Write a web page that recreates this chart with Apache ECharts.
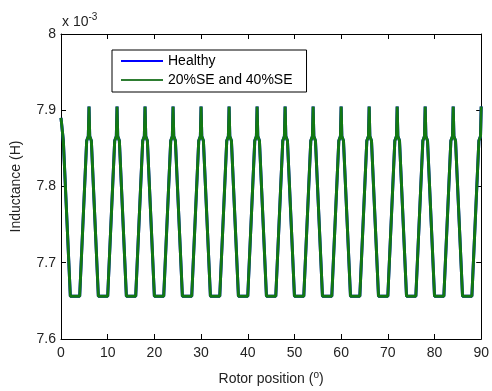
<!DOCTYPE html>
<html>
<head>
<meta charset="utf-8">
<script src="https://cdn.jsdelivr.net/npm/echarts@6/dist/echarts.min.js"></script>
<style>
html,body{margin:0;padding:0;background:#fff;}
#chart{width:492px;height:391px;}
</style>
</head>
<body>
<div id="chart"></div>
<script>
// Rotor position (degrees)
var rotorPos = [0,0.5,2.0,
  4.0,5.5,5.85,6,6.15,6.5,8.0,
  10.0,11.5,11.85,12,12.15,12.5,14.0,
  16.0,17.5,17.85,18,18.15,18.5,20.0,
  22.0,23.5,23.85,24,24.15,24.5,26.0,
  28.0,29.5,29.85,30,30.15,30.5,32.0,
  34.0,35.5,35.85,36,36.15,36.5,38.0,
  40.0,41.5,41.85,42,42.15,42.5,44.0,
  46.0,47.5,47.85,48,48.15,48.5,50.0,
  52.0,53.5,53.85,54,54.15,54.5,56.0,
  58.0,59.5,59.85,60,60.15,60.5,62.0,
  64.0,65.5,65.85,66,66.15,66.5,68.0,
  70.0,71.5,71.85,72,72.15,72.5,74.0,
  76.0,77.5,77.85,78,78.15,78.5,80.0,
  82.0,83.5,83.85,84,84.15,84.5,86.0,
  88.0,89.5,89.85,90];
// Inductance (x 10^-3 H)
var healthy = [7.890,7.860,7.656,
  7.656,7.860,7.866,7.905,7.866,7.860,7.656,
  7.656,7.860,7.866,7.905,7.866,7.860,7.656,
  7.656,7.860,7.866,7.905,7.866,7.860,7.656,
  7.656,7.860,7.866,7.905,7.866,7.860,7.656,
  7.656,7.860,7.866,7.905,7.866,7.860,7.656,
  7.656,7.860,7.866,7.905,7.866,7.860,7.656,
  7.656,7.860,7.866,7.905,7.866,7.860,7.656,
  7.656,7.860,7.866,7.905,7.866,7.860,7.656,
  7.656,7.860,7.866,7.905,7.866,7.860,7.656,
  7.656,7.860,7.866,7.905,7.866,7.860,7.656,
  7.656,7.860,7.866,7.905,7.866,7.860,7.656,
  7.656,7.860,7.866,7.905,7.866,7.860,7.656,
  7.656,7.860,7.866,7.905,7.866,7.860,7.656,
  7.656,7.860,7.866,7.905,7.866,7.860,7.656,
  7.656,7.860,7.866,7.905];
var faulty = [7.890,7.860,7.656,
  7.656,7.860,7.866,7.905,7.866,7.860,7.656,
  7.656,7.860,7.866,7.905,7.866,7.860,7.656,
  7.656,7.860,7.866,7.905,7.866,7.860,7.656,
  7.656,7.860,7.866,7.905,7.866,7.860,7.656,
  7.656,7.860,7.866,7.905,7.866,7.860,7.656,
  7.656,7.860,7.866,7.905,7.866,7.860,7.656,
  7.656,7.860,7.866,7.905,7.866,7.860,7.656,
  7.656,7.860,7.866,7.905,7.866,7.860,7.656,
  7.656,7.860,7.866,7.905,7.866,7.860,7.656,
  7.656,7.860,7.866,7.905,7.866,7.860,7.656,
  7.656,7.860,7.866,7.905,7.866,7.860,7.656,
  7.656,7.860,7.866,7.905,7.866,7.860,7.656,
  7.656,7.860,7.866,7.905,7.866,7.860,7.656,
  7.656,7.860,7.866,7.905,7.866,7.860,7.656,
  7.656,7.860,7.866,7.905];
var seriesNames = ['Healthy', '20%SE and 40%SE'];
var xTicks = [0,10,20,30,40,50,60,70,80,90];
var yTicks = [7.6,7.7,7.8,7.9,8];

function pairs(xs, ys){ return xs.map(function(x,i){ return [x, ys[i]]; }); }

var font = 'Liberation Sans, Arial, Helvetica, sans-serif';
var chart = echarts.init(document.getElementById('chart'), null, {renderer:'canvas'});
var axisCommon = {
  axisLine:{show:true, onZero:false, lineStyle:{color:'#000', width:1}},
  axisTick:{show:true, inside:true, length:5, lineStyle:{color:'#000'}},
  splitLine:{show:false}
};
chart.setOption({
  animation:false,
  backgroundColor:'#fff',
  grid:{left:61, right:4, top:34, bottom:51, containLabel:false},
  legend:{
    show:true, orient:'vertical', left:112, top:50,
    backgroundColor:'#fff', borderColor:'#000', borderWidth:1, borderRadius:0,
    padding:[4,14,5,9], itemGap:5, itemWidth:42, itemHeight:2, icon:'rect',
    textStyle:{fontFamily:font, fontSize:14, color:'#000'},
    data:seriesNames
  },
  xAxis:[
    Object.assign({type:'value', min:0, max:90, interval:10, position:'bottom',
      name:'Rotor position ({s|o})', nameLocation:'middle', nameGap:31,
      nameTextStyle:{fontFamily:font, fontSize:14, color:'#222',
        rich:{s:{fontFamily:font, fontSize:10, color:'#222', verticalAlign:'top', padding:[0,0,8,0]}}},
      axisLabel:{fontFamily:font, fontSize:14, color:'#222', margin:7,
        formatter:function(v){ return xTicks.indexOf(v) >= 0 ? String(v) : ''; }}
    }, axisCommon),
    Object.assign({type:'value', min:0, max:90, interval:10, position:'top',
      axisLabel:{show:false}}, axisCommon)
  ],
  yAxis:[
    Object.assign({type:'value', min:7.6, max:8, interval:0.1, position:'left',
      name:'Inductance (H)', nameLocation:'middle', nameGap:38, nameRotate:90,
      nameTextStyle:{fontFamily:font, fontSize:14, color:'#222'},
      axisLabel:{fontFamily:font, fontSize:14, color:'#222', margin:5,
        formatter:function(v){ var r=Math.round(v*10)/10; return yTicks.indexOf(r)>=0 ? String(r) : ''; }}
    }, axisCommon),
    Object.assign({type:'value', min:7.6, max:8, interval:0.1, position:'right',
      axisLabel:{show:false}}, axisCommon)
  ],
  graphic:[{
    type:'text', left:62, top:12,
    style:{text:'x 10{s|-3}', font:'14px '+font, fill:'#222',
      rich:{s:{fontSize:10, fontFamily:font, fill:'#222', verticalAlign:'top', padding:[0,0,10,0]}}}
  }],
  series:[
    {name:seriesNames[0], type:'line', data:pairs(rotorPos, healthy), showSymbol:false,
      lineStyle:{color:'#0000ff', width:3}, itemStyle:{color:'#0000ff'}, z:2},
    {name:seriesNames[1], type:'line', data:pairs(rotorPos, faulty), showSymbol:false,
      lineStyle:{color:'#127812', width:3}, itemStyle:{color:'#2e7d32'}, z:3}
  ]
});
</script>
</body>
</html>
